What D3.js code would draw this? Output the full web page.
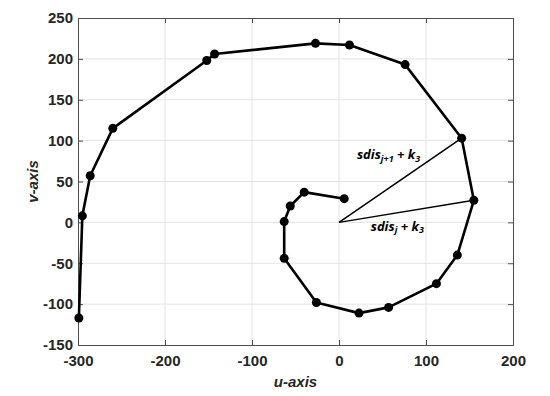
<!DOCTYPE html>
<html>
<head>
<meta charset="utf-8">
<script src="https://cdn.jsdelivr.net/npm/d3@7"></script>
<style>
  body { margin: 0; background: #fff; }
  svg { display: block; }
</style>
</head>
<body>
<svg id="chart" width="550" height="396"></svg>
<script>
// spiral points, from the inner end outwards
var uValues = [6, -40, -56, -63, -63, -26, 23, 57, 112, 136, 155, 141, 76, 12, -27, -143, -152, -260, -286, -295, -299];
var vValues = [29, 37, 20, 1, -44, -98, -111, -104, -75, -40, 27, 103, 193, 217, 219, 206, 198, 115, 57, 8, -117];

var xTicks = [-300, -200, -100, 0, 100, 200];
var yTicks = [-150, -100, -50, 0, 50, 100, 150, 200, 250];

// the two radius lines from the origin to points j and j+1
var radiusTargets = [10, 11];
var radiusLabels = [
  { main: 'sdis', sub: 'j', k: '3', u: 67, v: -10 },
  { main: 'sdis', sub: 'j+1', k: '3', u: 57, v: 77 }
];

var svg = d3.select('#chart');
var mLeft = 78, mRight = 513, mTop = 18, mBottom = 345;

var x = d3.scaleLinear().domain([-300, 200]).range([mLeft, mRight]);
var y = d3.scaleLinear().domain([-150, 250]).range([mBottom, mTop]);

var tickFont = '"Liberation Sans", Arial, sans-serif';
var plainFormat = function(d) { return String(d); };

// grid
svg.append('g').selectAll('line')
  .data(xTicks.slice(1, -1))
  .enter().append('line')
  .attr('x1', function(d) { return x(d); })
  .attr('x2', function(d) { return x(d); })
  .attr('y1', mTop).attr('y2', mBottom)
  .attr('stroke', '#e3e3e3').attr('stroke-width', 1);

svg.append('g').selectAll('line')
  .data(yTicks.slice(1, -1))
  .enter().append('line')
  .attr('y1', function(d) { return y(d); })
  .attr('y2', function(d) { return y(d); })
  .attr('x1', mLeft).attr('x2', mRight)
  .attr('stroke', '#e3e3e3').attr('stroke-width', 1);

// axes (ticks pointing inward, MATLAB style)
var xAxis = d3.axisBottom(x).tickValues(xTicks).tickSize(-5).tickPadding(10).tickFormat(plainFormat);
var yAxis = d3.axisLeft(y).tickValues(yTicks).tickSize(-5).tickPadding(5).tickFormat(plainFormat);

var gx = svg.append('g').attr('transform', 'translate(0,' + mBottom + ')').call(xAxis);
var gy = svg.append('g').attr('transform', 'translate(' + mLeft + ',0)').call(yAxis);
var gxTop = svg.append('g').attr('transform', 'translate(0,' + mTop + ')')
  .call(d3.axisTop(x).tickValues(xTicks).tickSize(-5).tickFormat(''));
var gyRight = svg.append('g').attr('transform', 'translate(' + mRight + ',0)')
  .call(d3.axisRight(y).tickValues(yTicks).tickSize(-5).tickFormat(''));

[gx, gy, gxTop, gyRight].forEach(function(g) {
  g.select('.domain').attr('stroke', '#4d4d4d').attr('stroke-width', 1);
  g.selectAll('.tick line').attr('stroke', '#4d4d4d');
  g.selectAll('.tick text')
    .attr('fill', '#262626')
    .style('font-family', tickFont)
    .style('font-size', '15px')
    .style('font-weight', 'bold');
});

// axis titles
svg.append('text')
  .attr('x', (mLeft + mRight) / 2).attr('y', 387)
  .attr('text-anchor', 'middle')
  .style('font-family', tickFont).style('font-size', '15px')
  .style('font-weight', 'bold').style('font-style', 'italic')
  .attr('fill', '#262626')
  .text('u-axis');

svg.append('text')
  .attr('transform', 'translate(38,' + ((mTop + mBottom) / 2) + ') rotate(-90)')
  .attr('text-anchor', 'middle')
  .style('font-family', tickFont).style('font-size', '15px')
  .style('font-weight', 'bold').style('font-style', 'italic')
  .attr('fill', '#262626')
  .text('v-axis');

// radius lines
svg.append('g').selectAll('line')
  .data(radiusTargets)
  .enter().append('line')
  .attr('x1', x(0)).attr('y1', y(0))
  .attr('x2', function(i) { return x(uValues[i]); })
  .attr('y2', function(i) { return y(vValues[i]); })
  .attr('stroke', '#000').attr('stroke-width', 1.5);

// spiral line
var pts = uValues.map(function(u, i) { return [u, vValues[i]]; });
var line = d3.line()
  .x(function(d) { return x(d[0]); })
  .y(function(d) { return y(d[1]); });

svg.append('path')
  .datum(pts)
  .attr('d', line)
  .attr('fill', 'none')
  .attr('stroke', '#000')
  .attr('stroke-width', 2.6)
  .attr('stroke-linejoin', 'round');

svg.append('g').selectAll('circle')
  .data(pts)
  .enter().append('circle')
  .attr('cx', function(d) { return x(d[0]); })
  .attr('cy', function(d) { return y(d[1]); })
  .attr('r', 4.5)
  .attr('fill', '#000');

// labels
var labelFont = '"Open Sans", "DejaVu Sans", sans-serif';
radiusLabels.forEach(function(l) {
  var t = svg.append('text')
    .attr('x', x(l.u)).attr('y', y(l.v))
    .attr('text-anchor', 'middle')
    .style('font-family', labelFont).style('font-size', '13px')
    .style('font-weight', 'bold').style('font-style', 'italic')
    .attr('fill', '#000');
  t.append('tspan').text(l.main);
  t.append('tspan').attr('dy', 2.5).style('font-size', '9px').text(l.sub);
  t.append('tspan').attr('dy', -2.5).text(' + k');
  t.append('tspan').attr('dy', 2.5).style('font-size', '9px').text(l.k);
});
</script>
</body>
</html>
